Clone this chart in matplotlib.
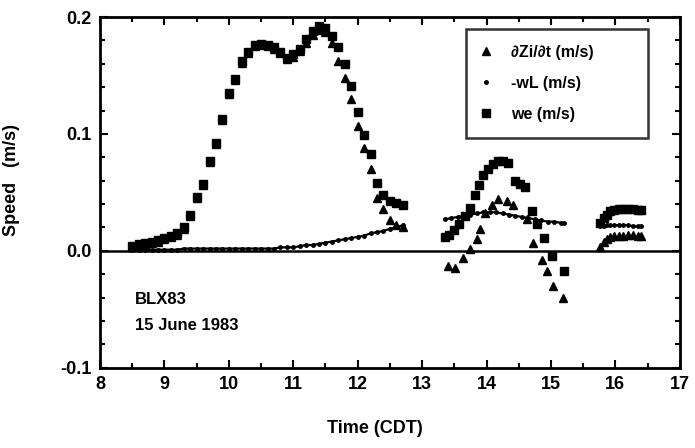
import matplotlib
matplotlib.use('Agg')
import matplotlib.pyplot as plt
from matplotlib.ticker import MultipleLocator

plt.rcParams['font.family'] = ['Liberation Sans', 'DejaVu Sans']
plt.rcParams['font.weight'] = 'bold'

# segment 1 (morning growth)
t1 = [8.5, 8.6, 8.7, 8.8, 8.9, 9.0, 9.1, 9.2, 9.3, 9.4, 9.5, 9.6, 9.7, 9.8, 9.9,
      10.0, 10.1, 10.2, 10.3, 10.4, 10.5, 10.6, 10.7, 10.8, 10.9, 11.0, 11.1, 11.2,
      11.3, 11.4, 11.5, 11.6, 11.7, 11.8, 11.9, 12.0, 12.1, 12.2, 12.3, 12.4, 12.5,
      12.6, 12.7]
we1 = [0.004, 0.006, 0.007, 0.008, 0.009, 0.011, 0.013, 0.015, 0.020, 0.031, 0.046,
       0.057, 0.077, 0.092, 0.113, 0.135, 0.147, 0.162, 0.170, 0.176, 0.177, 0.176,
       0.174, 0.170, 0.165, 0.168, 0.173, 0.181, 0.188, 0.192, 0.191, 0.184, 0.174,
       0.160, 0.141, 0.119, 0.099, 0.083, 0.058, 0.048, 0.043, 0.041, 0.039]
dz1 = [0.003, 0.005, 0.006, 0.007, 0.008, 0.010, 0.012, 0.014, 0.019, 0.030, 0.045,
       0.056, 0.076, 0.091, 0.112, 0.134, 0.146, 0.161, 0.169, 0.175, 0.176, 0.175,
       0.173, 0.169, 0.164, 0.166, 0.171, 0.178, 0.185, 0.189, 0.187, 0.178, 0.162,
       0.148, 0.130, 0.107, 0.088, 0.070, 0.045, 0.036, 0.026, 0.022, 0.020]
wl1 = [0.001, 0.001, 0.001, 0.001, 0.001, 0.001, 0.001, 0.001, 0.002, 0.002, 0.002,
       0.002, 0.002, 0.002, 0.002, 0.002, 0.002, 0.002, 0.002, 0.002, 0.002, 0.002,
       0.002, 0.003, 0.003, 0.003, 0.004, 0.005, 0.005, 0.006, 0.007, 0.008, 0.009,
       0.010, 0.011, 0.012, 0.013, 0.015, 0.016, 0.017, 0.019, 0.020, 0.022]

# segment 2
t2_we = [13.35, 13.42, 13.5, 13.58, 13.66, 13.74, 13.82, 13.88, 13.95, 14.02, 14.1,
         14.18, 14.26, 14.34, 14.44, 14.52, 14.6, 14.7, 14.78, 14.9, 15.02, 15.2]
we2 = [0.012, 0.014, 0.018, 0.023, 0.030, 0.037, 0.048, 0.056, 0.065, 0.070, 0.074,
       0.077, 0.077, 0.075, 0.060, 0.057, 0.055, 0.034, 0.023, 0.011, -0.004, -0.017]
t2_dz = [13.40, 13.51, 13.64, 13.75, 13.85, 13.90, 13.98, 14.09, 14.18, 14.32, 14.41,
         14.63, 14.72, 14.86, 14.94, 15.03, 15.19]
dz2 = [-0.013, -0.015, -0.006, 0.002, 0.010, 0.019, 0.032, 0.039, 0.044, 0.043, 0.039,
       0.027, 0.007, -0.008, -0.017, -0.030, -0.040]
t2_wl = [13.35, 13.45, 13.55, 13.65, 13.75, 13.85, 13.95, 14.05, 14.15, 14.25, 14.35,
         14.45, 14.55, 14.65, 14.75, 14.85, 14.95, 15.05, 15.15, 15.2]
wl2 = [0.027, 0.028, 0.029, 0.030, 0.031, 0.032, 0.033, 0.033, 0.033, 0.032, 0.031,
       0.030, 0.029, 0.028, 0.027, 0.026, 0.025, 0.025, 0.024, 0.024]

# segment 3
t3 = [15.77, 15.82, 15.87, 15.92, 15.98, 16.05, 16.12, 16.2, 16.28, 16.36, 16.4]
we3 = [0.024, 0.028, 0.031, 0.034, 0.035, 0.036, 0.036, 0.036, 0.036, 0.035, 0.035]
wl3 = [0.021, 0.021, 0.022, 0.022, 0.022, 0.022, 0.022, 0.022, 0.021, 0.021, 0.021]
dz3 = [0.003, 0.008, 0.010, 0.012, 0.013, 0.013, 0.013, 0.014, 0.014, 0.013, 0.013]

fig = plt.figure(figsize=(6.95, 4.48), dpi=100)
ax = fig.add_axes([0.144, 0.179, 0.834, 0.783])

ax.axhline(0, color='black', lw=1.8, zorder=1)

# -wL: dense dots, drawn as a dotted trace
for t, w in [(t1, wl1), (t2_wl, wl2), (t3, wl3)]:
    ax.plot(t, w, '-', color='black', lw=1.6, zorder=2)
ax.plot(t1 + t2_wl + t3, wl1 + wl2 + wl3, 'o', color='black', ms=2.5, ls='none',
        zorder=2, label='-wL (m/s)')

ax.plot(t1 + t2_dz + t3, dz1 + dz2 + dz3, '^', color='black', ms=6, ls='none',
        zorder=3, label='\u2202Zi/\u2202t (m/s)')
ax.plot(t1 + t2_we + t3, we1 + we2 + we3, 's', color='black', ms=6, ls='none',
        zorder=4, label='we (m/s)')

ax.set_xlim(8, 17)
ax.set_ylim(-0.1, 0.2)
ax.xaxis.set_major_locator(MultipleLocator(1))
ax.xaxis.set_minor_locator(MultipleLocator(0.5))
ax.yaxis.set_major_locator(MultipleLocator(0.1))
ax.yaxis.set_minor_locator(MultipleLocator(0.02))
ax.yaxis.set_major_formatter(plt.FuncFormatter(lambda v, p: '%.1f' % v))
ax.tick_params(which='both', direction='in', top=True, right=True, width=1.5,
               labelsize=13, pad=6)
ax.tick_params(which='major', length=6)
ax.tick_params(which='minor', length=3.5)
for s in ax.spines.values():
    s.set_linewidth(2)

ax.set_xlabel('Time (CDT)', fontsize=13, fontweight='bold')
ax.set_ylabel('Speed   (m/s)', fontsize=13, fontweight='bold')
ax.xaxis.set_label_coords(0.474, -0.148)
ax.yaxis.set_label_coords(-0.138, 0.536)

ax.text(0.06, 0.194, 'BLX83', transform=ax.transAxes, fontsize=12,
        fontweight='bold', va='center', ha='left')
ax.text(0.06, 0.12, '15 June 1983', transform=ax.transAxes, fontsize=12,
        fontweight='bold', va='center', ha='left')

h, l = ax.get_legend_handles_labels()
order = [1, 0, 2]
leg = ax.legend([h[i] for i in order], [l[i] for i in order], loc='upper left',
                bbox_to_anchor=(0.631, 0.65, 0.314, 0.316), mode='expand',
                fontsize=11.5, frameon=True, fancybox=False, edgecolor='black',
                labelspacing=1.0, handletextpad=1.3, borderpad=1.0,
                handlelength=0.5, borderaxespad=0)
leg.get_frame().set_linewidth(1.8)

fig.savefig('out.png', dpi=100)
